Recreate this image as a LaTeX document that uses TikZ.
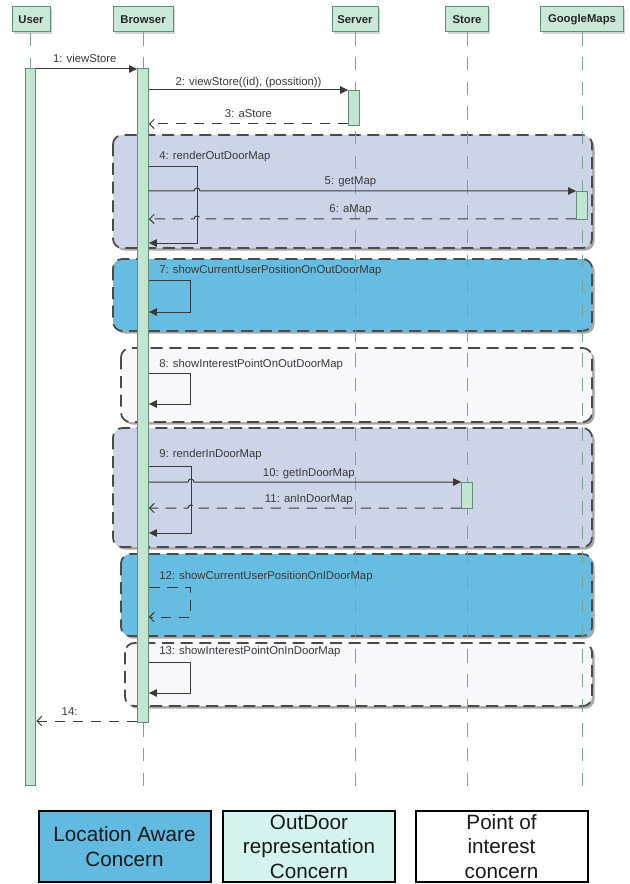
\documentclass[tikz,border=0pt]{standalone}
\usepackage{fontspec}
\setmainfont{Liberation Sans}
\usetikzlibrary{arrows.meta,shadows}

\definecolor{lifeC}{HTML}{7FA393}
\definecolor{actFill}{HTML}{C2E5D2}
\definecolor{actDraw}{HTML}{5E9078}
\definecolor{hdrFill}{HTML}{CAE8D8}
\definecolor{msgC}{HTML}{3A3A3A}
\definecolor{grpDraw}{HTML}{4A4A4A}
\definecolor{lavFill}{HTML}{CDD4E8}
\definecolor{blueFill}{HTML}{66BCE1}
\definecolor{whiteFill}{HTML}{F8F7F9}
\definecolor{legBlue}{HTML}{62BAE0}
\definecolor{legMint}{HTML}{D4F3EE}
\definecolor{shadowC}{HTML}{A8A8A8}

% one combined fragment: shadow, fill, dashed rounded frame
\newcommand{\seqgroup}[5]{%
  \fill[shadowC, rounded corners=7pt, xshift=1.9pt, yshift=-1.9pt] (#2,#3) rectangle (#4,#5);
  \filldraw[grp, fill=#1] (#2,#3) rectangle (#4,#5);
}

\tikzset{
  hdr/.style={draw=actDraw, fill=hdrFill, line width=0.75pt, minimum height=18.75pt,
    inner sep=0pt, text=black!85, font=\fontsize{8.5}{10}\selectfont\bfseries,
    drop shadow={shadow xshift=1.5pt, shadow yshift=-1.5pt, fill=shadowC}},
  act/.style={draw=actDraw, fill=actFill, line width=0.75pt, minimum width=8pt, inner sep=0pt},
  life/.style={draw=lifeC, line width=0.7pt, dash pattern=on 10pt off 8.5pt},
  msg/.style={draw=msgC, line width=0.75pt, -{Triangle[length=6pt,width=5.5pt]}},
  ret/.style={draw=msgC, line width=0.75pt, dash pattern=on 8pt off 5.5pt,
    -{Straight Barb[length=3.5pt,width=7pt]}},
  grp/.style={draw=grpDraw, line width=1.3pt, dash pattern=on 9pt off 5pt, rounded corners=7pt},
  lbl/.style={font=\fontsize{8.5}{10}\selectfont, text=msgC, inner sep=0pt},
  mlbl/.style={lbl, anchor=base, yshift=4.5pt},
  leg/.style={draw=black, line width=1.5pt, minimum width=129pt, minimum height=53.25pt,
    inner sep=0pt, align=center, text=black!90, font=\fontsize{15.5}{18.4}\selectfont},
}

\begin{document}
\begin{tikzpicture}[x=0.75pt,y=-0.75pt]
\useasboundingbox (0,0) rectangle (630,884);
\fill[white] (0,0) rectangle (630,884);

% combined fragments
\seqgroup{lavFill}{113}{135}{592}{248}
\seqgroup{blueFill}{113}{259}{592}{331}
\seqgroup{whiteFill}{121}{348}{592}{422}
\seqgroup{lavFill}{113}{428}{592}{547}
\seqgroup{blueFill}{121}{554}{592}{636}
\seqgroup{whiteFill}{125}{643}{592}{706}

% participants
\node[hdr, minimum width=28.5pt] (hU) at (31,19.5) {User};
\node[hdr, minimum width=45pt] (hB) at (143,19.5) {Browser};
\node[hdr, minimum width=34.5pt] (hS) at (355,19.5) {Server};
\node[hdr, minimum width=32pt] (hT) at (467,19.5) {Store};
\node[hdr, minimum width=62pt] (hG) at (582,19.5) {GoogleMaps};

\coordinate (bot) at (0,788);
\draw[life] (30.5,33) -- (30.5,788);
\draw[life] (hB.south) -- (hB.south |- bot);
\draw[life] (hS.south) -- (hS.south |- bot);
\draw[life] (hT.south) -- (hT.south |- bot);
\draw[life] (hG.south) -- (hG.south |- bot);

% activation bars
\node[act, minimum height=537.75pt, anchor=north] (uAct) at (30.5,68) {};
\node[act, minimum height=490.5pt, anchor=north] (bAct) at (143,68) {};
\node[act, minimum height=26.25pt, anchor=north] (sAct) at (354,90) {};
\node[act, minimum height=19.5pt, anchor=north] (tAct) at (467,482) {};
\node[act, minimum height=21pt, anchor=north] (gAct) at (582,191) {};

% message levels
\coordinate (y1) at (0,69);
\coordinate (y2) at (0,90);
\coordinate (y3) at (0,124);
\coordinate (y5) at (0,191);
\coordinate (y6) at (0,219);
\coordinate (y10) at (0,482);
\coordinate (y11) at (0,508);
\coordinate (y14) at (0,721);

% messages
\draw[msg] (uAct.east |- y1) -- node[mlbl, xshift=-1.5pt] {1: viewStore} (bAct.west |- y1);
\draw[msg] (bAct.east |- y2) -- node[mlbl, yshift=-1pt] {2: viewStore((id), (possition))} (sAct.west |- y2);
\draw[ret] (sAct.west |- y3) -- node[mlbl] {3: aStore} (bAct.east |- y3);

\node[lbl, anchor=base west] (t4) at (159,160) {4: renderOutDoorMap};
\draw[msg] (bAct.east |- 0,167) -- (197,167) -- (197,243) -- (bAct.east |- 0,243);
\draw[msg] (bAct.east |- y5) -- (194,191) arc[start angle=180, end angle=360, radius=3]
  -- node[mlbl, pos=0.4] {5: getMap} (gAct.west |- y5);
\draw[ret] (gAct.west |- y6) -- node[mlbl, pos=0.6] {6: aMap} (200,219)
  arc[start angle=360, end angle=180, radius=3] -- (bAct.east |- y6);

\node[lbl, anchor=base west] (t7) at (159,273) {7: showCurrentUserPositionOnOutDoorMap};
\draw[msg] (bAct.east |- 0,280) -- (190,280) -- (190,312) -- (bAct.east |- 0,312);

\node[lbl, anchor=base west] (t8) at (159,367) {8: showInterestPointOnOutDoorMap};
\draw[msg] (bAct.east |- 0,373) -- (190,373) -- (190,404) -- (bAct.east |- 0,404);

\node[lbl, anchor=base west] (t9) at (159,457) {9: renderInDoorMap};
\draw[msg] (bAct.east |- 0,466) -- (191,466) -- (191,533) -- (bAct.east |- 0,533);
\draw[msg] (bAct.east |- y10) -- (188,482) arc[start angle=180, end angle=360, radius=3]
  -- node[mlbl, pos=0.43] {10: getInDoorMap} (tAct.west |- y10);
\draw[ret] (tAct.west |- y11) -- node[mlbl, pos=0.57] {11: anInDoorMap} (194,508)
  arc[start angle=360, end angle=180, radius=3] -- (bAct.east |- y11);

\node[lbl, anchor=base west] (t12) at (159,579) {12: showCurrentUserPositionOnIDoorMap};
\draw[ret] (bAct.east |- 0,587) -- (190,587) -- (190,617) -- (bAct.east |- 0,617);

\node[lbl, anchor=base west] (t13) at (159,654) {13: showInterestPointOnInDoorMap};
\draw[msg] (bAct.east |- 0,662) -- (190,662) -- (190,693) -- (bAct.east |- 0,693);

\draw[ret] (bAct.west |- y14) -- node[mlbl, pos=0.67] {14:} (uAct.east |- y14);

% legend
\node[leg, fill=legBlue] (k1) at (124.5,846.5) {Location Aware\\Concern};
\node[leg, fill=legMint] (k2) at (309,846.5) {OutDoor\\representation\\Concern};
\node[leg, fill=white] (k3) at (501.5,846.5) {Point of\\interest\\concern};
\end{tikzpicture}
\end{document}
